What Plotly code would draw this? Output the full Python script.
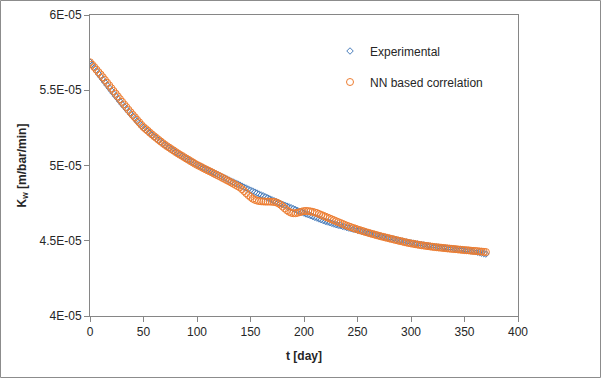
import plotly.graph_objects as go

# time axis (days)
t_days = list(range(0, 371, 2))

# Experimental K_w [m/bar/min]
k_exp = [
    5.686e-5, 5.667e-5, 5.648e-5, 5.628e-5, 5.609e-5,
    5.590e-5, 5.571e-5, 5.553e-5, 5.534e-5, 5.516e-5,
    5.497e-5, 5.479e-5, 5.461e-5, 5.444e-5, 5.426e-5,
    5.408e-5, 5.392e-5, 5.375e-5, 5.359e-5, 5.342e-5,
    5.326e-5, 5.311e-5, 5.295e-5, 5.280e-5, 5.265e-5,
    5.250e-5, 5.238e-5, 5.226e-5, 5.214e-5, 5.202e-5,
    5.190e-5, 5.179e-5, 5.168e-5, 5.158e-5, 5.147e-5,
    5.136e-5, 5.126e-5, 5.117e-5, 5.107e-5, 5.098e-5,
    5.088e-5, 5.079e-5, 5.071e-5, 5.062e-5, 5.054e-5,
    5.045e-5, 5.037e-5, 5.030e-5, 5.022e-5, 5.014e-5,
    5.006e-5, 4.999e-5, 4.992e-5, 4.984e-5, 4.977e-5,
    4.970e-5, 4.963e-5, 4.957e-5, 4.950e-5, 4.944e-5,
    4.937e-5, 4.930e-5, 4.923e-5, 4.917e-5, 4.910e-5,
    4.903e-5, 4.896e-5, 4.890e-5, 4.883e-5, 4.877e-5,
    4.870e-5, 4.863e-5, 4.856e-5, 4.850e-5, 4.843e-5,
    4.836e-5, 4.830e-5, 4.823e-5, 4.817e-5, 4.810e-5,
    4.804e-5, 4.798e-5, 4.791e-5, 4.785e-5, 4.778e-5,
    4.772e-5, 4.766e-5, 4.760e-5, 4.754e-5, 4.748e-5,
    4.742e-5, 4.736e-5, 4.730e-5, 4.725e-5, 4.719e-5,
    4.713e-5, 4.707e-5, 4.701e-5, 4.696e-5, 4.690e-5,
    4.684e-5, 4.678e-5, 4.673e-5, 4.667e-5, 4.662e-5,
    4.656e-5, 4.651e-5, 4.645e-5, 4.640e-5, 4.634e-5,
    4.629e-5, 4.625e-5, 4.620e-5, 4.616e-5, 4.611e-5,
    4.607e-5, 4.603e-5, 4.600e-5, 4.596e-5, 4.592e-5,
    4.588e-5, 4.584e-5, 4.581e-5, 4.577e-5, 4.574e-5,
    4.570e-5, 4.566e-5, 4.563e-5, 4.559e-5, 4.556e-5,
    4.552e-5, 4.548e-5, 4.545e-5, 4.541e-5, 4.538e-5,
    4.534e-5, 4.531e-5, 4.527e-5, 4.524e-5, 4.520e-5,
    4.517e-5, 4.514e-5, 4.511e-5, 4.507e-5, 4.504e-5,
    4.501e-5, 4.498e-5, 4.495e-5, 4.492e-5, 4.489e-5,
    4.486e-5, 4.484e-5, 4.481e-5, 4.479e-5, 4.476e-5,
    4.474e-5, 4.472e-5, 4.469e-5, 4.467e-5, 4.465e-5,
    4.463e-5, 4.461e-5, 4.459e-5, 4.458e-5, 4.456e-5,
    4.454e-5, 4.452e-5, 4.451e-5, 4.449e-5, 4.448e-5,
    4.446e-5, 4.444e-5, 4.443e-5, 4.441e-5, 4.440e-5,
    4.438e-5, 4.436e-5, 4.434e-5, 4.432e-5, 4.430e-5,
    4.428e-5, 4.425e-5, 4.422e-5, 4.418e-5, 4.415e-5, 4.412e-5,
]

# NN based correlation K_w [m/bar/min]
k_nn = [
    5.686e-5, 5.670e-5, 5.654e-5, 5.637e-5, 5.620e-5,
    5.604e-5, 5.586e-5, 5.568e-5, 5.550e-5, 5.532e-5,
    5.513e-5, 5.495e-5, 5.477e-5, 5.459e-5, 5.441e-5,
    5.423e-5, 5.405e-5, 5.388e-5, 5.370e-5, 5.353e-5,
    5.336e-5, 5.320e-5, 5.303e-5, 5.287e-5, 5.270e-5,
    5.255e-5, 5.243e-5, 5.231e-5, 5.218e-5, 5.206e-5,
    5.194e-5, 5.183e-5, 5.171e-5, 5.160e-5, 5.149e-5,
    5.138e-5, 5.128e-5, 5.119e-5, 5.109e-5, 5.100e-5,
    5.090e-5, 5.081e-5, 5.072e-5, 5.064e-5, 5.055e-5,
    5.046e-5, 5.038e-5, 5.029e-5, 5.021e-5, 5.012e-5,
    5.004e-5, 4.997e-5, 4.990e-5, 4.982e-5, 4.975e-5,
    4.968e-5, 4.961e-5, 4.954e-5, 4.946e-5, 4.939e-5,
    4.932e-5, 4.925e-5, 4.917e-5, 4.910e-5, 4.902e-5,
    4.895e-5, 4.887e-5, 4.879e-5, 4.871e-5, 4.863e-5,
    4.855e-5, 4.843e-5, 4.830e-5, 4.816e-5, 4.803e-5,
    4.791e-5, 4.780e-5, 4.772e-5, 4.767e-5, 4.764e-5,
    4.762e-5, 4.761e-5, 4.760e-5, 4.760e-5, 4.760e-5,
    4.759e-5, 4.758e-5, 4.755e-5, 4.749e-5, 4.740e-5,
    4.728e-5, 4.715e-5, 4.703e-5, 4.693e-5, 4.686e-5,
    4.683e-5, 4.683e-5, 4.686e-5, 4.690e-5, 4.694e-5,
    4.697e-5, 4.698e-5, 4.697e-5, 4.695e-5, 4.692e-5,
    4.688e-5, 4.684e-5, 4.678e-5, 4.672e-5, 4.666e-5,
    4.660e-5, 4.654e-5, 4.648e-5, 4.642e-5, 4.636e-5,
    4.630e-5, 4.624e-5, 4.618e-5, 4.612e-5, 4.606e-5,
    4.600e-5, 4.595e-5, 4.590e-5, 4.585e-5, 4.580e-5,
    4.575e-5, 4.571e-5, 4.566e-5, 4.562e-5, 4.557e-5,
    4.553e-5, 4.549e-5, 4.545e-5, 4.541e-5, 4.537e-5,
    4.533e-5, 4.529e-5, 4.526e-5, 4.522e-5, 4.519e-5,
    4.515e-5, 4.512e-5, 4.508e-5, 4.505e-5, 4.501e-5,
    4.498e-5, 4.495e-5, 4.491e-5, 4.488e-5, 4.485e-5,
    4.482e-5, 4.480e-5, 4.477e-5, 4.475e-5, 4.472e-5,
    4.470e-5, 4.468e-5, 4.466e-5, 4.464e-5, 4.462e-5,
    4.460e-5, 4.458e-5, 4.457e-5, 4.455e-5, 4.454e-5,
    4.452e-5, 4.451e-5, 4.449e-5, 4.448e-5, 4.446e-5,
    4.445e-5, 4.444e-5, 4.442e-5, 4.441e-5, 4.439e-5,
    4.438e-5, 4.437e-5, 4.436e-5, 4.434e-5, 4.433e-5,
    4.432e-5, 4.431e-5, 4.429e-5, 4.428e-5, 4.426e-5, 4.425e-5,
]

x_ticks = [0, 50, 100, 150, 200, 250, 300, 350, 400]
y_tickvals = [4.0e-5, 4.5e-5, 5.0e-5, 5.5e-5, 6.0e-5]
y_ticktext = ["4E-05", "4.5E-05", "5E-05", "5.5E-05", "6E-05"]

FONT = "Liberation Sans"
AXIS_COLOR = "#868686"
TEXT_COLOR = "#262626"

fig = go.Figure()
fig.add_trace(go.Scatter(
    x=t_days, y=k_exp, mode="markers", name="Experimental",
    marker=dict(symbol="diamond-open", size=5, color="#4a7ebb",
                line=dict(width=1, color="#4a7ebb")),
    legend="legend",
))
fig.add_trace(go.Scatter(
    x=t_days, y=k_nn, mode="markers", name="NN based correlation",
    marker=dict(symbol="circle-open", size=7, color="#ED7D31",
                line=dict(width=1, color="#ED7D31")),
    legend="legend2",
))

W, H = 601, 378
L, R, T, B = 90, 83, 15, 62
pw, ph = W - L - R, H - T - B

LEG_X = (350 - 20 - L) / pw

fig.update_layout(
    width=W, height=H,
    margin=dict(l=L, r=R, t=T, b=B, autoexpand=False),
    paper_bgcolor="white", plot_bgcolor="white",
    font=dict(family=FONT, size=12, color=TEXT_COLOR),
    showlegend=True,
    legend=dict(x=LEG_X, y=1 - (51 - T) / ph, xanchor="left", yanchor="middle",
                bgcolor="rgba(0,0,0,0)", font=dict(family=FONT, size=12, color=TEXT_COLOR)),
    legend2=dict(x=LEG_X, y=1 - (82 - T) / ph, xanchor="left", yanchor="middle",
                 bgcolor="rgba(0,0,0,0)", font=dict(family=FONT, size=12, color=TEXT_COLOR)),
    xaxis=dict(
        range=[0, 400], tickvals=x_ticks, ticks="outside", ticklen=5,
        tickcolor=AXIS_COLOR, showline=True, linecolor=AXIS_COLOR, linewidth=1,
        mirror=True, showgrid=False, zeroline=False, automargin=False,
        tickfont=dict(family=FONT, size=12, color=TEXT_COLOR),
        title=dict(text="<b>t [day]</b>", font=dict(family=FONT, size=12, color=TEXT_COLOR), standoff=13),
    ),
    yaxis=dict(
        range=[4.0e-5, 6.0e-5], tickvals=y_tickvals, ticktext=y_ticktext,
        ticks="outside", ticklen=5, tickcolor=AXIS_COLOR,
        showline=True, linecolor=AXIS_COLOR, linewidth=1, mirror=True,
        showgrid=False, zeroline=False, automargin=False,
        tickfont=dict(family=FONT, size=12, color=TEXT_COLOR),
        title=dict(text="<b>K<sub>w</sub> [m/bar/min]</b>", font=dict(family=FONT, size=12, color=TEXT_COLOR), standoff=10),
    ),
    shapes=[dict(
        type="rect", xref="paper", yref="paper",
        x0=(0.5 - L) / pw, x1=(W - 0.5 - L) / pw,
        y0=-(H - 0.5 - (T + ph)) / ph, y1=1 + (T - 0.5) / ph,
        line=dict(color="#8c8c8c", width=1), fillcolor="rgba(0,0,0,0)", layer="below",
    )],
)

fig.write_html("out.html", config={"displayModeBar": False},
               post_script="document.body.style.margin='0px';")
